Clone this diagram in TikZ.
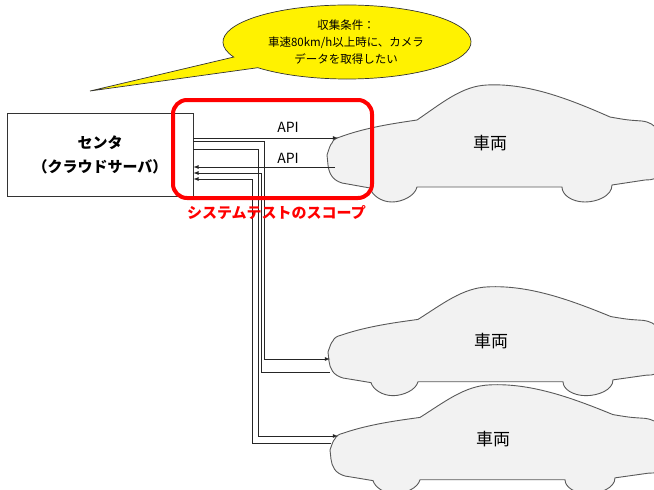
\documentclass[tikz,border=0pt]{standalone}
\usepackage{fontspec}
\setmainfont{Noto Sans CJK JP}
\usetikzlibrary{arrows,positioning}

\begin{document}
\begin{tikzpicture}[x=1pt,y=-1pt,
  link/.style={draw=black!85,line width=0.8pt},
  carbody/.style={draw=black!65,line width=0.9pt,fill=black!5},
  carlabel/.style={font=\fontsize{17}{20}\selectfont},
  apilabel/.style={font=\fontsize{14}{16}\selectfont,inner sep=0pt},
  bubble/.style={draw=black!80,line width=0.7pt,fill=yellow},
  car/.pic={
    \path[carbody] (13,54)
      .. controls (40,44) and (70,40) .. (90,37)
      .. controls (115,20) and (135,3) .. (160,2)
      .. controls (200,0) and (240,15) .. (283,34)
      .. controls (300,37) .. (315,38)
      .. controls (330,40) and (333,50) .. (334,60) -- (334,88)
      .. controls (333,96) and (325,97) .. (318,97) -- (285,102)
      .. controls (285,113) and (270,119) .. (258,119)
      .. controls (245,119) and (235,112) .. (235,104) -- (90,104)
      .. controls (88,113) and (75,119) .. (65,119)
      .. controls (54,119) and (45,112) .. (43,105) -- (15,100)
      .. controls (5,97) and (2,90) .. (1,82) -- (0,72)
      .. controls (2,66) and (3,62) .. (5,60)
      .. controls (6,57) and (9,55) .. (13,54) -- cycle;
    \node[carlabel] (-label) at (163,60) {車両};
  }]
\useasboundingbox (0,0) rectangle (654,490);

% vehicles, cut off at the page edge
\begin{scope}
\clip (0,0) rectangle (654,490);
\pic (car1) at (327,83) {car};
\pic[yscale=0.93] (car2) at (328,285) {car};
\pic[yscale=0.93] (car3) at (330,383) {car};
\end{scope}

% server
\node[draw=black!80,line width=0.8pt,minimum width=186pt,minimum height=83pt,
  align=center,font=\fontsize{15}{24}\selectfont\bfseries] (center) at (100,154.5)
  {センタ\\（クラウドサーバ）};

% ports on the vehicles
\coordinate (in1) at (338,138);
\coordinate (out1) at (335,167);
\coordinate (in2) at (330,359);
\coordinate (out2) at (330,372);
\coordinate (in3) at (338,436);
\coordinate (out3) at (331,443);

\draw[link,-latex] (center.east |- in1) -- (in1);
\draw[link,-latex] (out1) -- (center.east |- out1);
\foreach \c/\yo/\xo/\yi/\xi in {2/141/264/173/261,3/149/258/179/252}{
  \draw[link,-latex] (center.east |- 0,\yo) -| (in\c -| \xo,0) -- (in\c);
  \draw[link,-latex] (out\c) -| (\xi,\yi) -- (center.east |- 0,\yi);
}
\node[apilabel] (api1) at (288,127) {API};
\node[apilabel] (api2) at (288,158) {API};

% test scope
\node[draw=red,line width=4pt,rounded corners=14pt,minimum width=199pt,
  minimum height=98pt] (scope) at (272.5,149) {};
\node[below=5pt of scope,xshift=4pt,inner sep=0pt,text=red,
  font=\fontsize{15}{18}\selectfont\bfseries] (scopelabel) {システムテストのスコープ};

% collection condition, speech bubble with its tail
\coordinate (tail) at (90,91);
\path[bubble] (347,42) ++(156:124 and 37)
  arc[start angle=156,end angle=496,x radius=124,y radius=37] -- (tail) -- cycle;
\node[align=center,font=\fontsize{11.5}{17}\selectfont] (cond) at (346,42)
  {収集条件：\\車速80km/h以上時に、カメラ\\データを取得したい};
\end{tikzpicture}
\end{document}
